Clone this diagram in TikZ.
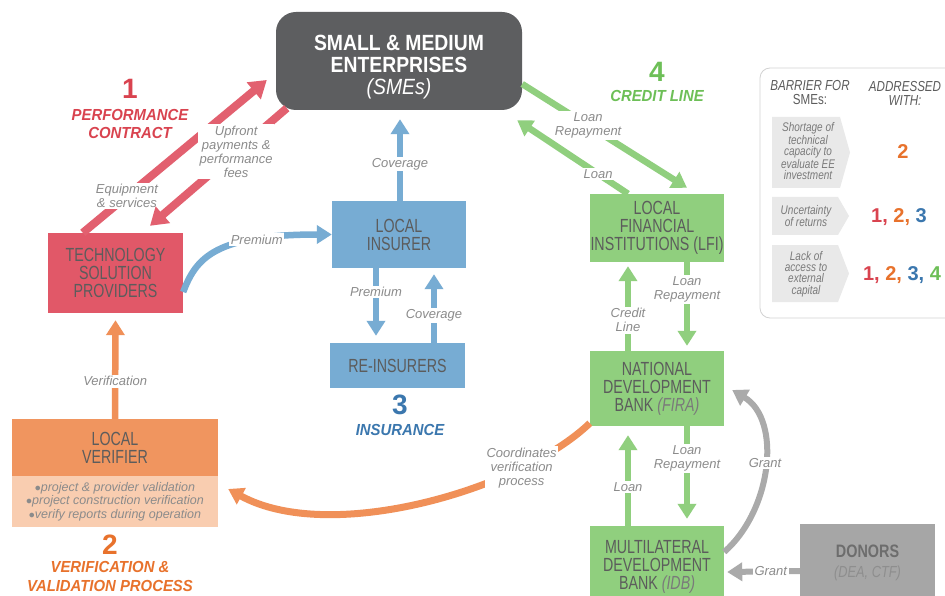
\documentclass[tikz,border=0pt]{standalone}
\usepackage{fontspec}
\setmainfont{Liberation Sans}
\newfontfamily\cond{Liberation Sans}[FakeStretch=0.75]
\newfontfamily\titlef{Liberation Sans}[FakeStretch=0.93]
\newfontfamily\smef{Liberation Sans}[FakeStretch=0.88]
\newfontfamily\donf{Liberation Sans}[FakeStretch=0.8]
\newfontfamily\panelf{Liberation Sans}[FakeStretch=0.8]
\usetikzlibrary{arrows.meta,calc}
\definecolor{smegray}{HTML}{5D5E60}
\definecolor{redbox}{HTML}{E15868}
\definecolor{redarr}{HTML}{E2606F}
\definecolor{redtitle}{HTML}{D9434F}
\definecolor{orbox}{HTML}{F0955F}
\definecolor{orlight}{HTML}{F9CDB0}
\definecolor{ortitle}{HTML}{E8722C}
\definecolor{orarr}{HTML}{F09058}
\definecolor{bluebox}{HTML}{77ACD3}
\definecolor{bluetitle}{HTML}{3B77AE}
\definecolor{greenbox}{HTML}{90CF7E}
\definecolor{greentitle}{HTML}{6DBF57}
\definecolor{donbox}{HTML}{A6A6A6}
\definecolor{grayarr}{HTML}{AAAAAA}
\definecolor{labgray}{HTML}{8B8B8B}
\definecolor{boxtext}{HTML}{5C5C5C}
\definecolor{panelbg}{HTML}{E9E9E9}
\definecolor{paneltext}{HTML}{7A7A7A}
\definecolor{dontext}{HTML}{6D6D6D}
\definecolor{donsub}{HTML}{8E8E8E}
\begin{document}
\begin{tikzpicture}[x=1pt,y=-1pt,
  box/.style={inner sep=0pt, align=center, text=boxtext, font=\cond\fontsize{19}{18}\selectfont},
  arr/.style={line width=6.5pt, -{Triangle[length=15pt,width=18pt]}},
  redarrow/.style={line width=8pt, draw=redarr, -{Triangle[length=17pt,width=21pt]}},
  lab/.style={fill=white, inner sep=1.5pt, align=center, text=labgray, font=\itshape\fontsize{13}{14}\selectfont},
  digit/.style={font=\bfseries\fontsize{28}{28}\selectfont},
  ttl/.style={align=center, font=\titlef\bfseries\itshape\fontsize{16}{18.5}\selectfont},
  ctext/.style={align=center, text=paneltext, font=\panelf\itshape\fontsize{12.5}{11.3}\selectfont},
  num/.style={font=\bfseries\fontsize{20}{20}\selectfont}
]
\useasboundingbox (0,0) rectangle (945,596);
\clip (0,0) rectangle (945,596);
\fill[white] (0,0) rectangle (945,596);

% ---------- boxes ----------
\node[fill=smegray, rounded corners=20pt, minimum width=246pt, minimum height=98pt, inner sep=0pt,
  label={[yshift=-6pt, align=center, text=white, font=\smef\bfseries\fontsize{22}{22}\selectfont]center:SMALL \& MEDIUM\\ENTERPRISES\\{\mdseries\itshape (SMEs)}}] (sme) at (399,61) {};
\node[box, fill=redbox, minimum width=135pt, minimum height=80pt] (tsp) at (115.5,273) {TECHNOLOGY\\SOLUTION\\PROVIDERS};
\node[box, fill=bluebox, minimum width=134pt, minimum height=67pt] (li) at (399,234.5) {LOCAL\\INSURER};
\node[box, fill=bluebox, minimum width=135pt, minimum height=45pt] (ri) at (397.5,365.5) {RE-INSURERS};
\node[box, fill=greenbox, minimum width=134pt, minimum height=68pt] (lfi) at (657,228) {LOCAL\\FINANCIAL\\INSTITUTIONS (LFI)};
\node[box, fill=greenbox, minimum width=134pt, minimum height=75pt] (ndb) at (657,388.5) {NATIONAL\\DEVELOPMENT\\BANK {\itshape\color{paneltext}(FIRA)}};
\node[box, fill=greenbox, minimum width=134pt, minimum height=82pt] (mdb) at (657,567) {MULTILATERAL\\DEVELOPMENT\\BANK {\itshape\color{paneltext}(IDB)}};
\node[fill=donbox, minimum width=135pt, minimum height=78pt, inner sep=0pt, align=center, font=\donf\fontsize{18}{20.5}\selectfont] (don) at (867.5,563) {\textcolor{dontext}{\bfseries DONORS}\\\textcolor{donsub}{\itshape\fontsize{16}{20.5}\selectfont (DEA, CTF)}};
\node[box, fill=orbox, minimum width=206pt, minimum height=57pt] (lv) at (115,447.5) {LOCAL\\VERIFIER};
\node[fill=orlight, minimum width=206pt, minimum height=51pt, inner sep=0pt, align=center, text=labgray, font=\itshape\fontsize{12.5}{13.5}\selectfont] (lvb) at (115,501.5) {$\bullet$project \& provider validation\\$\bullet$project construction verification\\$\bullet$verify reports during operation};

% ---------- titles ----------
\node[digit, text=redtitle] (t1) at (130,89) {1};
\node[ttl, text=redtitle] (t1b) at (130,124) {PERFORMANCE\\CONTRACT};
\node[digit, text=ortitle] (t2) at (110,545) {2};
\node[ttl, text=ortitle] (t2b) at (110,576.5) {VERIFICATION \&\\VALIDATION PROCESS};
\node[digit, text=bluetitle] (t3) at (400,405) {3};
\node[ttl, text=bluetitle] (t3b) at (400,430) {INSURANCE};
\node[digit, text=greentitle] (t4) at (657,72) {4};
\node[ttl, text=greentitle] (t4b) at (657,96) {CREDIT LINE};

% ---------- red arrows ----------
\draw[redarrow] ($(tsp.north west)+(35,0)$) -- ($(sme.west)+(-9,19)$)
  node[lab, pos=0.24] {Equipment\\\& services};
\draw[redarrow] ($(sme.south west)+(11,-2)$) -- ($(tsp.north)+(34.5,-7)$)
  node[lab, pos=0.37] {Upfront\\payments \&\\performance\\fees};

% ---------- blue arrows ----------
\draw[arr, draw=bluebox] ($(tsp.east)+(0,19)$) .. controls (196,258) and (215,234.5) .. (li.west)
  node[lab, pos=0.73] {Premium};
\draw[arr, draw=bluebox] ($(li.north)+(1,0)$) -- ($(sme.south)+(1,9)$)
  node[lab, pos=0.45] {Coverage};
\draw[arr, draw=bluebox] ($(li.south)+(-23,0)$) -- ($(ri.north)+(-21.5,-7)$)
  node[lab, pos=0.35] {Premium};
\draw[arr, draw=bluebox] ($(ri.north)+(36.5,0)$) -- ($(li.south)+(35,6)$)
  node[lab, pos=0.4] {Coverage};

% ---------- green arrows ----------
\draw[arr, draw=greenbox] ($(lfi.north)+(-29,0)$) -- ($(sme.south east)+(-5,10)$)
  node[lab, pos=0.27] {Loan};
\draw[arr, draw=greenbox] ($(sme.east)+(0,23)$) -- ($(lfi.north)+(30,-6)$)
  node[lab, pos=0.4] {Loan\\Repayment};
\draw[arr, draw=greenbox] ($(ndb.north)+(-29,0)$) -- ($(lfi.south)+(-29,4)$)
  node[lab, pos=0.36] {Credit\\Line};
\draw[arr, draw=greenbox] ($(lfi.south)+(30,0)$) -- ($(ndb.north)+(30,-5)$)
  node[lab, pos=0.33] {Loan\\Repayment};
\draw[arr, draw=greenbox] ($(mdb.north)+(-29,0)$) -- ($(ndb.south)+(-29,9)$)
  node[lab, pos=0.43] {Loan};
\draw[arr, draw=greenbox] ($(ndb.south)+(30,0)$) -- ($(mdb.north)+(30,-7)$)
  node[lab, pos=0.35] {Loan\\Repayment};

% ---------- gray arrows ----------
\draw[arr, line width=6pt, draw=grayarr] ($(mdb.east)+(0,-15)$) .. controls (772,510) and (782,420) .. ($(ndb.east)+(8,1.5)$)
  node[lab, pos=0.52] {Grant};
\draw[arr, line width=6pt, draw=grayarr] ($(don.west)+(0,8)$) -- ($(mdb.east)+(3,5)$)
  node[lab, pos=0.4] {Grant};

% ---------- orange arrows ----------
\draw[arr, line width=7pt, draw=orarr] ($(ndb.south west)+(0,-3)$) .. controls (520,490) and (330,545) .. ($(lvb.east)+(10,-12.5)$)
  node[lab, pos=0.24] {Coordinates\\verification\\process};
\draw[arr, draw=orarr] (lv.north) -- ($(tsp.south)+(0,7)$)
  node[lab, pos=0.38] {Verification};

% ---------- right panel ----------
\draw[draw=gray!35, line width=0.8pt, rounded corners=10pt] (760,68) rectangle (965,318);
\node[align=center, text=boxtext, font=\panelf\fontsize{14.5}{14}\selectfont] (h1) at (810,93) {\itshape BARRIER FOR\\SMEs:};
\node[align=center, text=boxtext, font=\panelf\itshape\fontsize{14.5}{14}\selectfont] (h2) at (905,93) {ADDRESSED\\WITH:};
\fill[panelbg] (772,117) -- (840,117) -- (850,152.5) -- (840,188) -- (772,188) -- cycle;
\fill[panelbg] (772,197) -- (838,197) -- (849,216) -- (838,235) -- (772,235) -- cycle;
\fill[panelbg] (772,245) -- (838,245) -- (849,273.5) -- (838,302) -- (772,302) -- cycle;
\node[ctext] (c1) at (808,151) {Shortage of\\technical\\capacity to\\evaluate EE\\investment};
\node[ctext] (c2) at (806,216) {Uncertainty\\of returns};
\node[ctext] (c3) at (806,274) {Lack of\\access to\\external\\capital};
\node[num, text=ortitle] (n1) at (903,152) {2};
\node[num] (n2) at (899,217) {\color{redtitle}1, \color{ortitle}2, \color{bluetitle}3};
\node[num] (n3) at (902,275) {\color{redtitle}1, \color{ortitle}2, \color{bluetitle}3, \color{greentitle}4};
\end{tikzpicture}
\end{document}
